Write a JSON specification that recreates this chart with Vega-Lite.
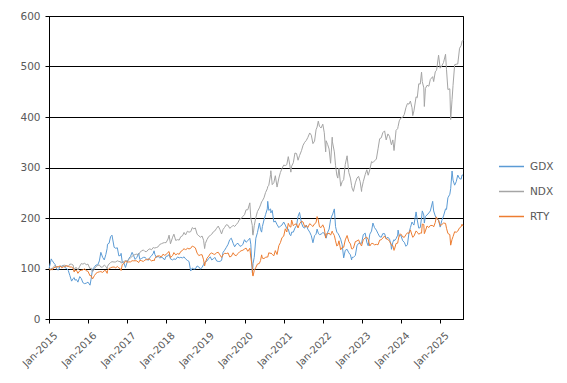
{
"$schema": "https://vega.github.io/schema/vega-lite/v6.json",
"width": 414, "height": 303,
"autosize": {"type": "none"},
"padding": {"left": 49, "top": 16, "right": 104, "bottom": 64},
"background": "white",
"config": {"view": {"stroke": "black", "strokeWidth": 1}, "font": "DejaVu Sans"},
"data": {"values": [
{"d":"2015-01-02","GDX":100,"NDX":100,"RTY":100},
{"d":"2015-01-15","GDX":112,"NDX":97.6,"RTY":97.2},
{"d":"2015-01-22","GDX":119,"NDX":101,"RTY":98.5},
{"d":"2015-01-30","GDX":116,"NDX":99,"RTY":96.8},
{"d":"2015-02-15","GDX":111,"NDX":104,"RTY":101.3},
{"d":"2015-02-27","GDX":108,"NDX":106,"RTY":102.4},
{"d":"2015-03-15","GDX":98,"NDX":103.5,"RTY":103},
{"d":"2015-03-31","GDX":97,"NDX":102.5,"RTY":104},
{"d":"2015-04-15","GDX":105,"NDX":104,"RTY":105},
{"d":"2015-04-30","GDX":104,"NDX":104.4,"RTY":101.3},
{"d":"2015-05-15","GDX":106,"NDX":106,"RTY":103.4},
{"d":"2015-05-29","GDX":102,"NDX":106.6,"RTY":103.6},
{"d":"2015-06-15","GDX":100,"NDX":105,"RTY":105.5},
{"d":"2015-06-30","GDX":96,"NDX":104,"RTY":104.2},
{"d":"2015-07-15","GDX":86,"NDX":108.7,"RTY":103},
{"d":"2015-07-31","GDX":75,"NDX":108.5,"RTY":102.9},
{"d":"2015-08-14","GDX":80,"NDX":106.9,"RTY":100.5},
{"d":"2015-08-24","GDX":82,"NDX":95,"RTY":93},
{"d":"2015-08-31","GDX":77,"NDX":101,"RTY":96.3},
{"d":"2015-09-15","GDX":78,"NDX":101.7,"RTY":96.3},
{"d":"2015-09-28","GDX":73,"NDX":97,"RTY":90.5},
{"d":"2015-10-15","GDX":84,"NDX":104.5,"RTY":95.5},
{"d":"2015-10-30","GDX":80,"NDX":109.9,"RTY":96.5},
{"d":"2015-11-13","GDX":72,"NDX":108.7,"RTY":97.2},
{"d":"2015-11-30","GDX":70,"NDX":110.3,"RTY":99.5},
{"d":"2015-12-15","GDX":71,"NDX":107.6,"RTY":95.5},
{"d":"2015-12-31","GDX":73,"NDX":108.6,"RTY":94.4},
{"d":"2016-01-19","GDX":67,"NDX":99.3,"RTY":85.5},
{"d":"2016-01-29","GDX":79,"NDX":101.2,"RTY":86},
{"d":"2016-02-11","GDX":98,"NDX":93.3,"RTY":79.2},
{"d":"2016-02-29","GDX":103,"NDX":99.3,"RTY":85.9},
{"d":"2016-03-15","GDX":107,"NDX":104,"RTY":90.5},
{"d":"2016-03-31","GDX":107,"NDX":106,"RTY":92.5},
{"d":"2016-04-15","GDX":115,"NDX":107,"RTY":93.4},
{"d":"2016-04-29","GDX":132,"NDX":102.6,"RTY":93.9},
{"d":"2016-05-16","GDX":122,"NDX":102.8,"RTY":92.2},
{"d":"2016-05-31","GDX":117,"NDX":107,"RTY":95.8},
{"d":"2016-06-15","GDX":128,"NDX":104,"RTY":95.5},
{"d":"2016-06-27","GDX":140,"NDX":99.3,"RTY":90.4},
{"d":"2016-06-30","GDX":148,"NDX":104.4,"RTY":95.7},
{"d":"2016-07-15","GDX":150,"NDX":109.2,"RTY":100.1},
{"d":"2016-07-29","GDX":163,"NDX":111.8,"RTY":101.3},
{"d":"2016-08-11","GDX":166,"NDX":113.5,"RTY":102.6},
{"d":"2016-08-31","GDX":142,"NDX":112.8,"RTY":103},
{"d":"2016-09-15","GDX":140,"NDX":113,"RTY":101.3},
{"d":"2016-09-30","GDX":141,"NDX":115.2,"RTY":104},
{"d":"2016-10-14","GDX":125,"NDX":114,"RTY":101.3},
{"d":"2016-10-31","GDX":126,"NDX":113.5,"RTY":99},
{"d":"2016-11-04","GDX":130,"NDX":110.5,"RTY":96},
{"d":"2016-11-15","GDX":112,"NDX":112.8,"RTY":108},
{"d":"2016-11-30","GDX":111,"NDX":113.7,"RTY":109.8},
{"d":"2016-12-15","GDX":102,"NDX":115.8,"RTY":114.6},
{"d":"2016-12-30","GDX":112,"NDX":115,"RTY":112.7},
{"d":"2017-01-16","GDX":120,"NDX":118.2,"RTY":113},
{"d":"2017-01-31","GDX":124,"NDX":121,"RTY":113.1},
{"d":"2017-02-15","GDX":132,"NDX":124,"RTY":115.4},
{"d":"2017-02-28","GDX":126,"NDX":126,"RTY":115.2},
{"d":"2017-03-15","GDX":118,"NDX":127.7,"RTY":115.4},
{"d":"2017-03-31","GDX":122,"NDX":128.5,"RTY":115.1},
{"d":"2017-04-17","GDX":130,"NDX":127,"RTY":111.7},
{"d":"2017-04-28","GDX":118,"NDX":132,"RTY":116.3},
{"d":"2017-05-15","GDX":120,"NDX":134.8,"RTY":115.4},
{"d":"2017-05-31","GDX":122,"NDX":136.8,"RTY":113.8},
{"d":"2017-06-15","GDX":122,"NDX":133.6,"RTY":117.1},
{"d":"2017-06-30","GDX":119,"NDX":133.5,"RTY":117.5},
{"d":"2017-07-14","GDX":116,"NDX":137,"RTY":118.8},
{"d":"2017-07-31","GDX":122,"NDX":139,"RTY":118.4},
{"d":"2017-08-15","GDX":125,"NDX":137,"RTY":114.6},
{"d":"2017-08-31","GDX":130,"NDX":141.6,"RTY":116.7},
{"d":"2017-09-08","GDX":135,"NDX":140.5,"RTY":115},
{"d":"2017-09-15","GDX":128,"NDX":140.7,"RTY":119.6},
{"d":"2017-09-29","GDX":122,"NDX":141.4,"RTY":123.8},
{"d":"2017-10-16","GDX":124,"NDX":143,"RTY":125},
{"d":"2017-10-31","GDX":121,"NDX":147.7,"RTY":124.8},
{"d":"2017-11-15","GDX":122,"NDX":149,"RTY":122.9},
{"d":"2017-11-30","GDX":121,"NDX":150.5,"RTY":128.2},
{"d":"2017-12-15","GDX":117,"NDX":151.3,"RTY":126.2},
{"d":"2017-12-29","GDX":124,"NDX":151.2,"RTY":127.5},
{"d":"2018-01-16","GDX":125,"NDX":158.4,"RTY":132.1},
{"d":"2018-01-26","GDX":128,"NDX":166,"RTY":133.5},
{"d":"2018-02-08","GDX":119,"NDX":149,"RTY":121.5},
{"d":"2018-02-28","GDX":117,"NDX":162,"RTY":125.7},
{"d":"2018-03-12","GDX":119,"NDX":168,"RTY":131.5},
{"d":"2018-03-29","GDX":118,"NDX":155.6,"RTY":127},
{"d":"2018-04-16","GDX":123,"NDX":157.2,"RTY":129.6},
{"d":"2018-04-30","GDX":121,"NDX":156.2,"RTY":128},
{"d":"2018-05-15","GDX":122,"NDX":163,"RTY":133.7},
{"d":"2018-05-31","GDX":121,"NDX":164.7,"RTY":135.7},
{"d":"2018-06-15","GDX":123,"NDX":171.4,"RTY":139.5},
{"d":"2018-06-29","GDX":119,"NDX":166.4,"RTY":136.5},
{"d":"2018-07-16","GDX":116,"NDX":173.8,"RTY":140.4},
{"d":"2018-07-31","GDX":114,"NDX":171.9,"RTY":138.7},
{"d":"2018-08-16","GDX":95,"NDX":173,"RTY":140},
{"d":"2018-08-31","GDX":101,"NDX":181,"RTY":144.5},
{"d":"2018-09-14","GDX":99,"NDX":178.5,"RTY":142.9},
{"d":"2018-09-28","GDX":99,"NDX":180.3,"RTY":140.9},
{"d":"2018-10-15","GDX":105,"NDX":167.8,"RTY":130.4},
{"d":"2018-10-31","GDX":103,"NDX":164.7,"RTY":125.5},
{"d":"2018-11-15","GDX":99,"NDX":162,"RTY":127.1},
{"d":"2018-11-30","GDX":102,"NDX":164.3,"RTY":127.3},
{"d":"2018-12-14","GDX":108,"NDX":156,"RTY":117.1},
{"d":"2018-12-24","GDX":112,"NDX":139.5,"RTY":105.2},
{"d":"2018-12-31","GDX":113,"NDX":149.6,"RTY":112},
{"d":"2019-01-15","GDX":115,"NDX":157.2,"RTY":120.4},
{"d":"2019-01-31","GDX":120,"NDX":163.3,"RTY":124.5},
{"d":"2019-02-15","GDX":123,"NDX":165.5,"RTY":129.6},
{"d":"2019-02-28","GDX":117,"NDX":167.8,"RTY":130.8},
{"d":"2019-03-15","GDX":119,"NDX":172.6,"RTY":128.7},
{"d":"2019-03-29","GDX":122,"NDX":174.4,"RTY":127.9},
{"d":"2019-04-15","GDX":115,"NDX":179.7,"RTY":131.2},
{"d":"2019-04-30","GDX":114,"NDX":184,"RTY":132.1},
{"d":"2019-05-15","GDX":114,"NDX":177.3,"RTY":127.1},
{"d":"2019-05-31","GDX":116,"NDX":168.5,"RTY":121.8},
{"d":"2019-06-14","GDX":132,"NDX":177.3,"RTY":127.1},
{"d":"2019-06-28","GDX":136,"NDX":181.3,"RTY":130.1},
{"d":"2019-07-15","GDX":142,"NDX":186.8,"RTY":129.6},
{"d":"2019-07-31","GDX":148,"NDX":185.4,"RTY":130.8},
{"d":"2019-08-15","GDX":157,"NDX":179.7,"RTY":122.9},
{"d":"2019-08-30","GDX":160,"NDX":181.9,"RTY":124.1},
{"d":"2019-09-16","GDX":150,"NDX":185.6,"RTY":131.2},
{"d":"2019-09-30","GDX":143,"NDX":183.2,"RTY":126.5},
{"d":"2019-10-15","GDX":148,"NDX":186.8,"RTY":125.4},
{"d":"2019-10-31","GDX":150,"NDX":191,"RTY":129.7},
{"d":"2019-11-15","GDX":145,"NDX":197.4,"RTY":132.9},
{"d":"2019-11-29","GDX":144,"NDX":198.7,"RTY":135},
{"d":"2019-12-16","GDX":148,"NDX":203.3,"RTY":136.2},
{"d":"2019-12-31","GDX":157,"NDX":206.5,"RTY":138.5},
{"d":"2020-01-15","GDX":152,"NDX":216.3,"RTY":140.4},
{"d":"2020-01-31","GDX":155,"NDX":216.3,"RTY":134},
{"d":"2020-02-19","GDX":160,"NDX":230,"RTY":140},
{"d":"2020-02-28","GDX":148,"NDX":200,"RTY":122.6},
{"d":"2020-03-13","GDX":92,"NDX":185,"RTY":102},
{"d":"2020-03-16","GDX":95,"NDX":168,"RTY":87},
{"d":"2020-03-20","GDX":110,"NDX":166,"RTY":85},
{"d":"2020-03-31","GDX":122,"NDX":184.7,"RTY":95.8},
{"d":"2020-04-15","GDX":160,"NDX":201,"RTY":102.2},
{"d":"2020-04-30","GDX":171,"NDX":212.8,"RTY":108.8},
{"d":"2020-05-18","GDX":190,"NDX":220,"RTY":110},
{"d":"2020-05-29","GDX":177,"NDX":225.9,"RTY":115.8},
{"d":"2020-06-08","GDX":172,"NDX":232,"RTY":127},
{"d":"2020-06-15","GDX":183,"NDX":234,"RTY":120.4},
{"d":"2020-06-30","GDX":196,"NDX":240,"RTY":119.7},
{"d":"2020-07-15","GDX":207,"NDX":250.6,"RTY":122.1},
{"d":"2020-07-31","GDX":218,"NDX":257.8,"RTY":122.9},
{"d":"2020-08-04","GDX":233,"NDX":262,"RTY":122.5},
{"d":"2020-08-14","GDX":215,"NDX":264.8,"RTY":131.2},
{"d":"2020-08-31","GDX":218,"NDX":286.3,"RTY":129.7},
{"d":"2020-09-02","GDX":210,"NDX":293.6,"RTY":131},
{"d":"2020-09-15","GDX":215,"NDX":266,"RTY":127.9},
{"d":"2020-09-30","GDX":192,"NDX":270,"RTY":125.2},
{"d":"2020-10-14","GDX":194,"NDX":283.7,"RTY":135.4},
{"d":"2020-10-30","GDX":187,"NDX":261.3,"RTY":127.7},
{"d":"2020-11-16","GDX":181,"NDX":279,"RTY":145.3},
{"d":"2020-11-30","GDX":184,"NDX":290,"RTY":151.1},
{"d":"2020-12-15","GDX":186,"NDX":297.9,"RTY":161.1},
{"d":"2020-12-31","GDX":192,"NDX":304.7,"RTY":164},
{"d":"2021-01-15","GDX":186,"NDX":303.8,"RTY":178.6},
{"d":"2021-01-29","GDX":179,"NDX":305.6,"RTY":172.3},
{"d":"2021-02-12","GDX":178,"NDX":321.5,"RTY":189.4},
{"d":"2021-02-26","GDX":167,"NDX":305.2,"RTY":182.8},
{"d":"2021-03-08","GDX":165,"NDX":290.8,"RTY":182},
{"d":"2021-03-15","GDX":172,"NDX":302.6,"RTY":196},
{"d":"2021-03-31","GDX":172,"NDX":309.5,"RTY":184.5},
{"d":"2021-04-15","GDX":180,"NDX":328.6,"RTY":187.7},
{"d":"2021-04-30","GDX":185,"NDX":327.7,"RTY":188.2},
{"d":"2021-05-14","GDX":203,"NDX":314.4,"RTY":180.2},
{"d":"2021-05-28","GDX":211,"NDX":323.6,"RTY":188.5},
{"d":"2021-06-15","GDX":190,"NDX":333.3,"RTY":193.5},
{"d":"2021-06-30","GDX":182,"NDX":344,"RTY":192},
{"d":"2021-07-15","GDX":180,"NDX":349.9,"RTY":182.7},
{"d":"2021-07-30","GDX":186,"NDX":353.6,"RTY":184.9},
{"d":"2021-08-13","GDX":178,"NDX":359.3,"RTY":181.1},
{"d":"2021-08-31","GDX":172,"NDX":368.4,"RTY":188.8},
{"d":"2021-09-15","GDX":165,"NDX":364,"RTY":186},
{"d":"2021-09-30","GDX":151,"NDX":347.3,"RTY":183.1},
{"d":"2021-10-15","GDX":165,"NDX":352.2,"RTY":188.5},
{"d":"2021-10-29","GDX":168,"NDX":374.7,"RTY":190.8},
{"d":"2021-11-08","GDX":178,"NDX":380,"RTY":202.8},
{"d":"2021-11-19","GDX":170,"NDX":391.8,"RTY":196},
{"d":"2021-11-30","GDX":167,"NDX":381.4,"RTY":182.6},
{"d":"2021-12-15","GDX":168,"NDX":378.3,"RTY":181.1},
{"d":"2021-12-31","GDX":171,"NDX":385.8,"RTY":186.5},
{"d":"2022-01-14","GDX":170,"NDX":368.8,"RTY":179.4},
{"d":"2022-01-27","GDX":162,"NDX":331,"RTY":160.4},
{"d":"2022-01-31","GDX":160,"NDX":353,"RTY":168.4},
{"d":"2022-02-15","GDX":172,"NDX":345.2,"RTY":168.6},
{"d":"2022-02-28","GDX":178,"NDX":336.6,"RTY":170.1},
{"d":"2022-03-14","GDX":197,"NDX":308.4,"RTY":166.1},
{"d":"2022-03-29","GDX":206,"NDX":360,"RTY":174},
{"d":"2022-03-31","GDX":206,"NDX":350.8,"RTY":171.9},
{"d":"2022-04-18","GDX":218,"NDX":331,"RTY":165.3},
{"d":"2022-04-29","GDX":183,"NDX":303.9,"RTY":154.8},
{"d":"2022-05-11","GDX":172,"NDX":285,"RTY":144.5},
{"d":"2022-05-20","GDX":170,"NDX":279,"RTY":146},
{"d":"2022-05-31","GDX":166,"NDX":298.9,"RTY":154.8},
{"d":"2022-06-16","GDX":158,"NDX":263,"RTY":137},
{"d":"2022-06-30","GDX":147,"NDX":272,"RTY":141.9},
{"d":"2022-07-14","GDX":121,"NDX":276,"RTY":142},
{"d":"2022-07-29","GDX":136,"NDX":306.1,"RTY":156.6},
{"d":"2022-08-15","GDX":138,"NDX":323.2,"RTY":165.3},
{"d":"2022-08-31","GDX":131,"NDX":290.1,"RTY":153.2},
{"d":"2022-09-15","GDX":127,"NDX":279,"RTY":148.7},
{"d":"2022-09-26","GDX":117,"NDX":264,"RTY":139},
{"d":"2022-09-30","GDX":122,"NDX":259.4,"RTY":138.3},
{"d":"2022-10-13","GDX":122,"NDX":252.7,"RTY":140.4},
{"d":"2022-10-31","GDX":126,"NDX":269.6,"RTY":153.3},
{"d":"2022-11-15","GDX":145,"NDX":279,"RTY":154.5},
{"d":"2022-11-30","GDX":150,"NDX":282.5,"RTY":156.7},
{"d":"2022-12-15","GDX":150,"NDX":271.9,"RTY":149.5},
{"d":"2022-12-28","GDX":150,"NDX":252.5,"RTY":144.5},
{"d":"2022-12-30","GDX":152,"NDX":258.6,"RTY":146.3},
{"d":"2023-01-13","GDX":167,"NDX":271.9,"RTY":157},
{"d":"2023-01-31","GDX":170,"NDX":286.1,"RTY":160.5},
{"d":"2023-02-15","GDX":152,"NDX":295.5,"RTY":162},
{"d":"2023-02-28","GDX":145,"NDX":284.7,"RTY":157.6},
{"d":"2023-03-15","GDX":168,"NDX":295.5,"RTY":144.5},
{"d":"2023-03-31","GDX":174,"NDX":311.6,"RTY":149.7},
{"d":"2023-04-13","GDX":190,"NDX":309.7,"RTY":149.5},
{"d":"2023-04-28","GDX":181,"NDX":313.1,"RTY":146.9},
{"d":"2023-05-15","GDX":176,"NDX":316.8,"RTY":147.8},
{"d":"2023-05-31","GDX":169,"NDX":337,"RTY":147},
{"d":"2023-06-15","GDX":163,"NDX":357,"RTY":156.1},
{"d":"2023-06-30","GDX":162,"NDX":358.8,"RTY":156.9},
{"d":"2023-07-14","GDX":169,"NDX":368.8,"RTY":160.3},
{"d":"2023-07-31","GDX":169,"NDX":372.5,"RTY":164.3},
{"d":"2023-08-15","GDX":159,"NDX":354.6,"RTY":158.6},
{"d":"2023-08-31","GDX":162,"NDX":366.5,"RTY":157.8},
{"d":"2023-09-15","GDX":158,"NDX":361.7,"RTY":153.7},
{"d":"2023-09-29","GDX":147,"NDX":347.9,"RTY":148.3},
{"d":"2023-10-03","GDX":138,"NDX":345,"RTY":146},
{"d":"2023-10-16","GDX":152,"NDX":354.6,"RTY":145.3},
{"d":"2023-10-27","GDX":157,"NDX":333.6,"RTY":135.9},
{"d":"2023-10-31","GDX":155,"NDX":340.6,"RTY":138},
{"d":"2023-11-15","GDX":159,"NDX":373.5,"RTY":149.5},
{"d":"2023-11-30","GDX":166,"NDX":377,"RTY":150.2},
{"d":"2023-12-04","GDX":176,"NDX":381,"RTY":155},
{"d":"2023-12-15","GDX":164,"NDX":392.4,"RTY":166.1},
{"d":"2023-12-29","GDX":166,"NDX":397.8,"RTY":168.4},
{"d":"2024-01-16","GDX":155,"NDX":399.5,"RTY":162.8},
{"d":"2024-01-31","GDX":152,"NDX":405.1,"RTY":161.7},
{"d":"2024-02-15","GDX":144,"NDX":418.4,"RTY":166.9},
{"d":"2024-02-29","GDX":147,"NDX":426.6,"RTY":170.7},
{"d":"2024-03-15","GDX":171,"NDX":425.5,"RTY":169.4},
{"d":"2024-03-28","GDX":181,"NDX":431.6,"RTY":176.5},
{"d":"2024-04-12","GDX":192,"NDX":418.4,"RTY":166.1},
{"d":"2024-04-19","GDX":189,"NDX":402.8,"RTY":161.7},
{"d":"2024-04-30","GDX":186,"NDX":412.3,"RTY":164},
{"d":"2024-05-20","GDX":212,"NDX":440,"RTY":174.4},
{"d":"2024-05-31","GDX":196,"NDX":438.2,"RTY":171.9},
{"d":"2024-06-14","GDX":180,"NDX":465.7,"RTY":167.8},
{"d":"2024-06-28","GDX":181,"NDX":465.3,"RTY":170.1},
{"d":"2024-07-10","GDX":200,"NDX":488.8,"RTY":170},
{"d":"2024-07-17","GDX":214,"NDX":470,"RTY":188},
{"d":"2024-07-31","GDX":206,"NDX":457.7,"RTY":187.2},
{"d":"2024-08-05","GDX":190,"NDX":420.8,"RTY":169},
{"d":"2024-08-15","GDX":203,"NDX":456.3,"RTY":174.4},
{"d":"2024-08-30","GDX":206,"NDX":462.8,"RTY":184.2},
{"d":"2024-09-16","GDX":210,"NDX":461,"RTY":181.1},
{"d":"2024-09-30","GDX":214,"NDX":474.3,"RTY":185.2},
{"d":"2024-10-22","GDX":233,"NDX":479.9,"RTY":185.2},
{"d":"2024-10-31","GDX":214,"NDX":470.2,"RTY":182.4},
{"d":"2024-11-15","GDX":204,"NDX":489.4,"RTY":191},
{"d":"2024-11-25","GDX":200,"NDX":492,"RTY":202.2},
{"d":"2024-11-29","GDX":198,"NDX":494.8,"RTY":200},
{"d":"2024-12-16","GDX":196,"NDX":522.4,"RTY":195.2},
{"d":"2024-12-31","GDX":182,"NDX":496.7,"RTY":185.2},
{"d":"2025-01-15","GDX":195,"NDX":501.2,"RTY":186.9},
{"d":"2025-01-31","GDX":204,"NDX":507.8,"RTY":190},
{"d":"2025-02-19","GDX":218,"NDX":524.2,"RTY":189.4},
{"d":"2025-02-28","GDX":217,"NDX":493.7,"RTY":179.7},
{"d":"2025-03-13","GDX":240,"NDX":454.5,"RTY":169.4},
{"d":"2025-03-31","GDX":247,"NDX":455.8,"RTY":167.1},
{"d":"2025-04-08","GDX":258,"NDX":395,"RTY":146.2},
{"d":"2025-04-21","GDX":293,"NDX":435,"RTY":157.8},
{"d":"2025-04-30","GDX":275,"NDX":462.7,"RTY":163.1},
{"d":"2025-05-15","GDX":265,"NDX":503.5,"RTY":172.8},
{"d":"2025-05-30","GDX":272,"NDX":504.5,"RTY":171.7},
{"d":"2025-06-13","GDX":285,"NDX":505,"RTY":174},
{"d":"2025-06-30","GDX":278,"NDX":536.2,"RTY":180.6},
{"d":"2025-07-15","GDX":277,"NDX":541.4,"RTY":182.7},
{"d":"2025-07-23","GDX":285,"NDX":550,"RTY":187.7},
{"d":"2025-08-01","GDX":285,"NDX":552,"RTY":184}
]},
"transform": [{"fold": ["GDX", "NDX", "RTY"], "as": ["s", "v"]}],
"mark": {"type": "line", "strokeWidth": 1},
"encoding": {
  "x": {"field": "d", "type": "temporal",
    "scale": {"type": "utc", "domain": [{"year": 2015, "month": 1, "date": 1, "utc": true}, {"year": 2025, "month": 8, "date": 1, "utc": true}]},
    "axis": {"title": null, "grid": false, "labelExpr": "utcFormat(datum.value, '%b-%Y')",
      "values": [{"year":2015,"month":1,"date":1,"utc":true},{"year":2016,"month":1,"date":1,"utc":true},{"year":2017,"month":1,"date":1,"utc":true},{"year":2018,"month":1,"date":1,"utc":true},{"year":2019,"month":1,"date":1,"utc":true},{"year":2020,"month":1,"date":1,"utc":true},{"year":2021,"month":1,"date":1,"utc":true},{"year":2022,"month":1,"date":1,"utc":true},{"year":2023,"month":1,"date":1,"utc":true},{"year":2024,"month":1,"date":1,"utc":true},{"year":2025,"month":1,"date":1,"utc":true}],
      "labelAngle": -45, "labelAlign": "right", "labelBaseline": "top", "labelFont": "DejaVu Sans", "labelFontSize": 10, "labelColor": "#595959", "labelPadding": 7, "labelOffset": 3,
      "domainColor": "black", "tickColor": "black", "tickSize": 4, "labelFlush": false, "labelOverlap": false, "labelBound": false}},
  "y": {"field": "v", "type": "quantitative",
    "scale": {"domain": [0, 600]},
    "axis": {"title": null, "values": [0,100,200,300,400,500,600], "grid": true, "gridColor": "black", "gridWidth": 1, "gridOpacity": 1,
      "domainColor": "black", "tickColor": "black", "tickSize": 4, "labelFont": "DejaVu Sans", "labelFontSize": 10.5, "labelColor": "#595959", "labelPadding": 5}},
  "color": {"field": "s", "type": "nominal",
    "scale": {"domain": ["GDX", "NDX", "RTY"], "range": ["#5B9BD5", "#A5A5A5", "#ED7D31"]},
    "legend": {"title": null, "orient": "none", "legendX": 449, "legendY": 137, "padding": 0,
      "symbolType": "stroke", "symbolSize": 625, "symbolStrokeWidth": 1.5, "labelFont": "DejaVu Sans", "labelFontSize": 10.5, "labelColor": "#595959", "labelOffset": 5, "rowPadding": 6}}
}
}
